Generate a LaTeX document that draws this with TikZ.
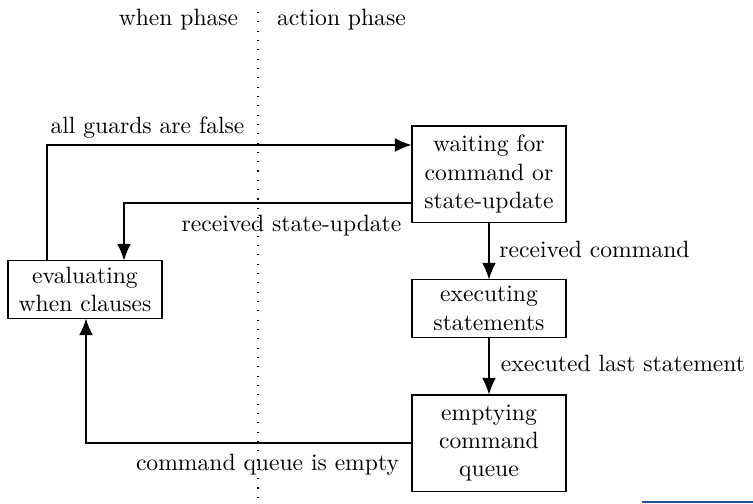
\documentclass[tikz,border=0pt]{standalone}
\usetikzlibrary{arrows.meta}
\definecolor{barblue}{RGB}{36,82,148}
\begin{document}
\begin{tikzpicture}[x=0.4237pt,y=-0.4237pt,
  state/.style={draw,align=center,inner sep=0pt,minimum width=65.25pt,line width=0.45pt},
  arr/.style={-{Latex[length=7pt,width=5.8pt]},line width=0.45pt},
  lbl/.style={anchor=base,inner sep=0pt}]
\useasboundingbox (0,0) rectangle (753,503);
% phase separator
\draw[line width=0.45pt,dash pattern=on 0.45pt off 3.5pt] (258,12) -- (258,503);
\node[lbl] (wp) at (178.5,25) {when phase};
\node[lbl] (ap) at (341.5,25) {action phase};
% states
\node[state,minimum height=40.7pt] (wait) at (489,174) {waiting for\\command or\\state-update};
\node[state,minimum height=24.2pt] (exec) at (489,308.5) {executing\\statements};
\node[state,minimum height=40.7pt] (empty) at (489,443) {emptying\\command\\queue};
\node[state,minimum height=24.2pt] (eval) at (85,289.5) {evaluating\\when clauses};
% bend points
\coordinate (g) at (47,145);
\coordinate (s) at (124,203);
\coordinate (q) at (86,443);
% connectors
\draw[arr] (g |- eval.north) -- (g) -- (g -| wait.west);
\draw[arr] (s -| wait.west) -- (s) -- (s |- eval.north);
\draw[arr] (wait.south) -- (exec.north);
\draw[arr] (exec.south) -- (empty.north);
\draw[arr] (empty.west) -- (q) -- (q |- eval.south);
% labels
\node[lbl] (l1) at (147.5,133) {all guards are false};
\node[lbl] (l2) at (291.5,231) {received state-update};
\node[lbl] (l3) at (594.5,257) {received command};
\node[lbl] (l4) at (623,371.5) {executed last statement};
\node[lbl] (l5) at (267.5,470.5) {command queue is empty};
% stray bar at bottom edge
\fill[barblue] (642,500.5) rectangle (753,503);
\end{tikzpicture}
\end{document}
